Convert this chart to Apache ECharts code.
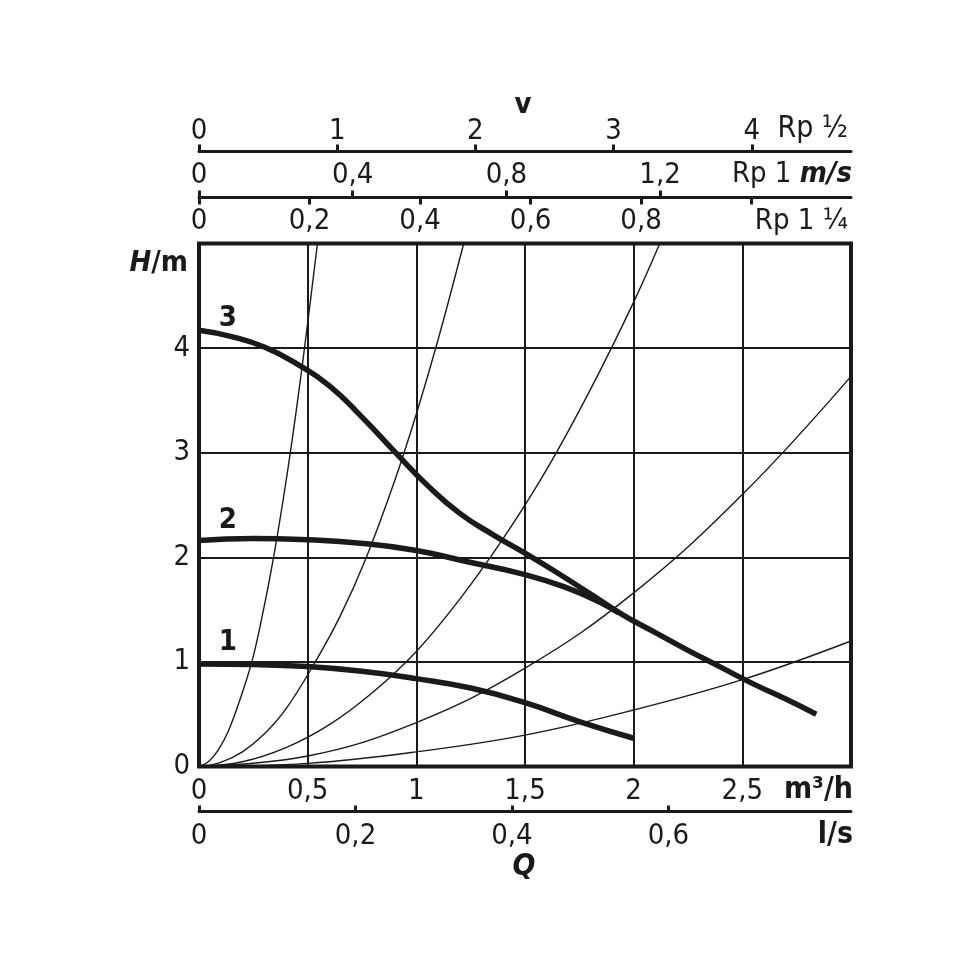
<!DOCTYPE html>
<html><head><meta charset="utf-8">
<script src="https://cdn.jsdelivr.net/npm/echarts@6/dist/echarts.min.js"></script>
<style>html,body{margin:0;padding:0;background:#fff}#c{width:980px;height:980px}</style>
</head><body><div id="c"></div>
<script>
const INK = '#1a1a1a';
const FONT = '"DejaVu Sans Condensed", "Roboto Condensed", Roboto, sans-serif';
const FS = 29;

// ---- tick values ----
const qTicks = [0, 0.5, 1, 1.5, 2, 2.5];          // m³/h
const lsTicks = [0, 0.2, 0.4, 0.6];                // l/s
const hTicks = [0, 1, 2, 3, 4];                    // H/m
const vHalfTicks = [0, 1, 2, 3, 4];                // Rp 1/2, m/s
const v1Ticks = [0, 0.4, 0.8, 1.2];                // Rp 1, m/s
const v114Ticks = [0, 0.2, 0.4, 0.6, 0.8, 1.0];    // Rp 1 1/4, m/s
const v114Labels = [0, 0.2, 0.4, 0.6, 0.8];

// ---- axis extents (value at right edge, Q = 3 m³/h) ----
const qMax = 3, hMax = 5;
const lsMax = 0.8333;
const vHalfMax = 4.718;
const v1Max = 1.697;
const v114Max = 1.18;

// ---- system (pipe) curves ----
const sysQ_A = [0, 0.043, 0.089, 0.135, 0.182, 0.243, 0.289, 0.343, 0.4, 0.45, 0.5, 0.545];
const sysH_A = [0, 0.045, 0.16, 0.34, 0.6, 1.0, 1.42, 2.0, 2.72, 3.44, 4.24, 5.0];
const sysQ_B = [0, 0.1, 0.2, 0.3, 0.4, 0.535, 0.65, 0.766, 0.9, 1.0, 1.1, 1.218];
const sysH_B = [0, 0.04, 0.14, 0.31, 0.55, 1.0, 1.44, 1.98, 2.73, 3.37, 4.08, 5.0];
const sysQ_C = [0, 0.2, 0.4, 0.6, 0.8, 1.0, 1.2, 1.4, 1.6, 1.8, 2.0, 2.12];
const sysH_C = [0, 0.045, 0.18, 0.4, 0.71, 1.1, 1.6, 2.18, 2.84, 3.6, 4.44, 5.0];
const sysQ_D = [0, 0.5, 1.0, 1.5, 2.0, 2.5, 3.0];
const sysH_D = [0, 0.1, 0.42, 0.94, 1.66, 2.6, 3.73];
const sysQ_E = [0, 0.5, 1.0, 1.5, 2.0, 2.5, 3.0];
const sysH_E = [0, 0.03, 0.14, 0.3, 0.54, 0.83, 1.2];

// ---- pump curves (speed stages 1,2,3) ----
const q1 = [0, 0.25, 0.5, 0.75, 1.0, 1.25, 1.5, 1.75, 2.0];
const h1 = [0.98, 0.975, 0.955, 0.91, 0.84, 0.75, 0.61, 0.43, 0.27];
const q2 = [0, 0.25, 0.47, 0.77, 1.0, 1.23, 1.5, 1.69, 1.84, 1.93];
const h2 = [2.16, 2.18, 2.17, 2.13, 2.065, 1.96, 1.835, 1.71, 1.575, 1.47];
const q3 = [0, 0.15, 0.3, 0.45, 0.6, 0.75, 0.9, 1.05, 1.2, 1.35, 1.5, 1.65, 1.8, 1.95, 2.1, 2.25, 2.4, 2.55, 2.7, 2.84];
const h3 = [4.17, 4.11, 4.01, 3.85, 3.64, 3.34, 3.01, 2.69, 2.42, 2.22, 2.04, 1.85, 1.65, 1.45, 1.28, 1.11, 0.95, 0.79, 0.645, 0.5];

// ---- curve labels ----
const stageNames = ['1', '2', '3'];
const stageLabelQ = [0.133, 0.133, 0.133];
const stageLabelH = [1.19, 2.35, 4.28];

const zip = (a, b) => a.map((v, i) => [v, b[i]]);
const comma = v => String(+v.toFixed(2)).replace('.', ',');
const lbl = (extra) => Object.assign({ color: INK, fontSize: FS, fontFamily: FONT, formatter: comma }, extra);

const chart = echarts.init(document.getElementById('c'), null, { renderer: 'canvas' });

const sysSeries = [[sysQ_A, sysH_A], [sysQ_B, sysH_B], [sysQ_C, sysH_C], [sysQ_D, sysH_D], [sysQ_E, sysH_E]]
  .map(([q, h]) => ({
    type: 'line', data: zip(q, h), smooth: 0.4, symbol: 'none', silent: true, z: 3,
    lineStyle: { color: INK, width: 1.4 }
  }));
const pumpSeries = [[q1, h1], [q2, h2], [q3, h3]].map(([q, h]) => ({
  type: 'line', data: zip(q, h), smooth: 0.5, symbol: 'none', silent: true, z: 5,
  lineStyle: { color: INK, width: 5.5, cap: 'butt' }
}));

chart.setOption({
  animation: false,
  backgroundColor: '#fff',
  grid: { left: 199, right: 129, top: 243.5, bottom: 213.5, show: true, borderColor: INK, borderWidth: 4, outerBoundsMode: 'none' },
  xAxis: [
    { type: 'value', position: 'bottom', min: 0, max: qMax, interval: 0.5,
      axisLine: { show: false }, axisTick: { show: false },
      splitLine: { show: true, lineStyle: { color: INK, width: 2 } },
      axisLabel: lbl({ customValues: qTicks, margin: 10 }) },
    { type: 'value', position: 'bottom', offset: 45, min: 0, max: lsMax,
      axisLine: { show: true, lineStyle: { color: INK, width: 3 } },
      axisTick: { show: true, inside: true, length: 6, customValues: lsTicks, lineStyle: { color: INK, width: 3 } },
      splitLine: { show: false },
      axisLabel: lbl({ customValues: lsTicks, margin: 10 }) },
    { type: 'value', position: 'top', offset: 92, min: 0, max: vHalfMax,
      axisLine: { show: true, lineStyle: { color: INK, width: 3 } },
      axisTick: { show: true, length: 7, customValues: vHalfTicks, lineStyle: { color: INK, width: 3 } },
      splitLine: { show: false },
      axisLabel: lbl({ customValues: vHalfTicks, margin: 6 }) },
    { type: 'value', position: 'top', offset: 46, min: 0, max: v1Max,
      axisLine: { show: true, lineStyle: { color: INK, width: 3 } },
      axisTick: { show: true, length: 7, customValues: v1Ticks, lineStyle: { color: INK, width: 3 } },
      splitLine: { show: false },
      axisLabel: lbl({ customValues: v1Ticks, margin: 8 }) },
    { type: 'value', position: 'top', offset: 46, min: 0, max: v114Max,
      axisLine: { show: false },
      axisTick: { show: true, inside: true, length: 7, customValues: v114Ticks, lineStyle: { color: INK, width: 3 } },
      splitLine: { show: false },
      axisLabel: lbl({ customValues: v114Labels, inside: true, margin: 9 }) }
  ],
  yAxis: [
    { type: 'value', min: 0, max: hMax, interval: 1,
      axisLine: { show: false }, axisTick: { show: false },
      splitLine: { show: true, lineStyle: { color: INK, width: 2 } },
      axisLabel: lbl({ customValues: hTicks, margin: 9 }) }
  ],
  series: sysSeries.concat(pumpSeries).concat([{
    type: 'scatter', silent: true, z: 6, symbolSize: 1,
    itemStyle: { color: INK, opacity: 0 },
    data: stageNames.map((n, i) => ({ value: [stageLabelQ[i], stageLabelH[i]], name: n })),
    label: { show: true, position: 'inside', formatter: p => p.name, color: INK, opacity: 1, textBorderWidth: 0,
             fontSize: FS, fontWeight: 'bold', fontFamily: FONT }
  }]),
  graphic: [
    { type: 'text', x: 523, y: 105, style: { text: 'v', fill: INK, font: 'bold 29px ' + FONT, textAlign: 'center', textVerticalAlign: 'middle', align: 'center', verticalAlign: 'middle' } },
    { type: 'text', x: 848, y: 129, style: { text: 'Rp ½', fill: INK, font: '30px ' + FONT, textAlign: 'right', textVerticalAlign: 'middle', align: 'right', verticalAlign: 'middle' } },
    { type: 'text', x: 852, y: 174, style: { text: '{n|Rp 1 }{b|m/s}', fill: INK, textAlign: 'right', textVerticalAlign: 'middle', align: 'right', verticalAlign: 'middle',
        rich: { n: { fontSize: FS, fontFamily: FONT, color: INK }, b: { fontSize: FS, fontFamily: FONT, fontWeight: 'bold', fontStyle: 'italic', color: INK } } } },
    { type: 'text', x: 848, y: 221, style: { text: 'Rp 1 ¼', fill: INK, font: FS + 'px ' + FONT, textAlign: 'right', textVerticalAlign: 'middle', align: 'right', verticalAlign: 'middle' } },
    { type: 'text', x: 188, y: 263, style: { text: '{i|H}{b|/m}', fill: INK, textAlign: 'right', textVerticalAlign: 'middle', align: 'right', verticalAlign: 'middle',
        rich: { i: { fontSize: FS, fontFamily: FONT, fontWeight: 'bold', fontStyle: 'italic', color: INK }, b: { fontSize: FS, fontFamily: FONT, fontWeight: 'bold', color: INK } } } },
    { type: 'text', x: 853, y: 790, style: { text: 'm³/h', fill: INK, font: 'bold 30px ' + FONT, textAlign: 'right', textVerticalAlign: 'middle', align: 'right', verticalAlign: 'middle' } },
    { type: 'text', x: 853, y: 835, style: { text: 'l/s', fill: INK, font: 'bold 30px ' + FONT, textAlign: 'right', textVerticalAlign: 'middle', align: 'right', verticalAlign: 'middle' } },
    { type: 'text', x: 524, y: 867, style: { text: 'Q', fill: INK, font: 'italic bold 30px ' + FONT, textAlign: 'center', textVerticalAlign: 'middle', align: 'center', verticalAlign: 'middle' } }
  ]
});
</script></body></html>
